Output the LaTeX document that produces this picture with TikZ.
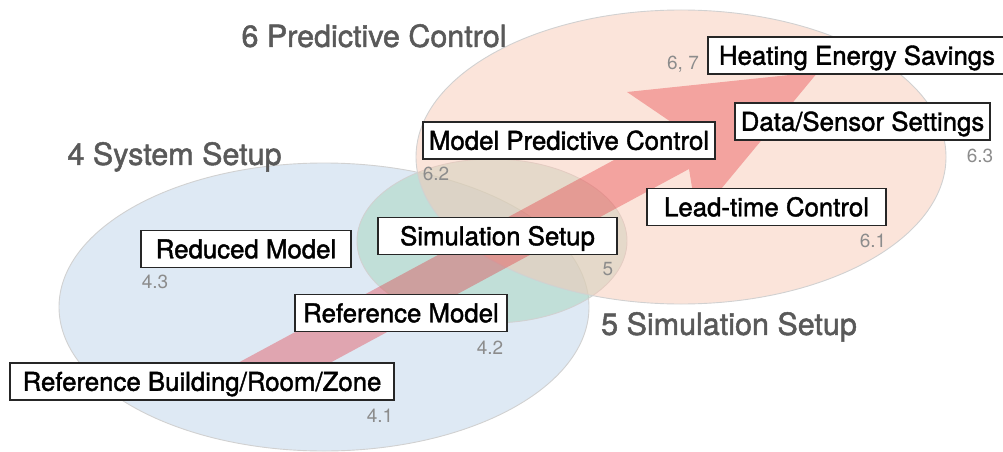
\documentclass[tikz,border=0pt]{standalone}
\usepackage{fontspec}
\setmainfont{TeX Gyre Heros}
\newfontfamily\medfont{TeX Gyre Heros}[FakeBold=1.6]
\newfontfamily\titlefont{TeX Gyre Heros}[FakeBold=1.6]
\begin{document}
\begin{tikzpicture}[x=1pt,y=-1pt,
  ring/.style={draw=black!18, line width=0.9pt},
  boxlabel/.style={draw=black!85, line width=1.4pt, fill=white,
    font=\medfont\fontsize{25.8}{30}\selectfont, text height=18.5pt, text depth=0pt,
    inner xsep=0pt, inner ysep=0pt, minimum height=37pt},
  secnum/.style={text=black!45, font=\fontsize{19}{22}\selectfont,
    text height=13.6pt, text depth=0pt, inner sep=0pt},
  chapter/.style={text=black!65, font=\titlefont\fontsize{30.5}{36}\selectfont,
    text height=21.8pt, text depth=0pt, inner sep=0pt}]
\definecolor{sysblue}{RGB}{222,233,244}
\definecolor{simgreen}{RGB}{166,215,190}
\definecolor{ctrlorange}{RGB}{247,201,181}
\definecolor{flowred}{RGB}{228,41,50}
\useasboundingbox (0,0) rectangle (1003,452);

% chapter areas
\fill[sysblue] (324,307) ellipse [x radius=265pt, y radius=144pt];
\draw[ring] (324,307) ellipse [x radius=265pt, y radius=144pt];
\fill[simgreen, fill opacity=0.5] (492,241) ellipse [x radius=135pt, y radius=82pt];
\draw[ring] (492,241) ellipse [x radius=135pt, y radius=82pt];
\fill[ctrlorange, fill opacity=0.5] (681,157) ellipse [x radius=265pt, y radius=147pt];
\draw[ring] (681,157) ellipse [x radius=265pt, y radius=147pt];

% workflow arrow
\coordinate (a1) at (197,385);
\coordinate (j1) at (677,126);
\coordinate (h1) at (627,92);
\coordinate (tip) at (818,72);
\coordinate (h2) at (697,218);
\coordinate (j2) at (689,169);
\coordinate (a2) at (289,385);
\fill[flowred, fill opacity=0.35] (a1) -- (j1) -- (h1) -- (tip) -- (h2) -- (j2) -- (a2) -- cycle;

% chapter titles
\node[chapter] (t6) at (374,36) {6 Predictive Control};
\node[chapter] (t4) at (174.5,154) {4 System Setup};
\node[chapter] (t5) at (729,324) {5 Simulation Setup};

% steps
\node[boxlabel, minimum width=298pt] (heat) at (857,55.5) {Heating Energy Savings};
\node[boxlabel, minimum width=255pt] (data) at (862.5,121.5) {Data/Sensor Settings};
\node[boxlabel, minimum width=292pt] (mpc) at (569,140.5) {Model Predictive Control};
\node[boxlabel, minimum width=239pt] (lead) at (766.5,207) {Lead-time Control};
\node[boxlabel, minimum width=239pt] (sim) at (497.5,236) {Simulation Setup};
\node[boxlabel, minimum width=210pt] (red) at (246,249) {Reduced Model};
\node[boxlabel, minimum width=212pt] (refm) at (401,313) {Reference Model};
\node[boxlabel, minimum width=384pt] (refb) at (202,381.5) {Reference Building/Room/Zone};

% section numbers
\node[secnum] (n67) at (683,63) {6, 7};
\node[secnum] (n63) at (980,156) {6.3};
\node[secnum] (n62) at (436,174) {6.2};
\node[secnum] (n61) at (873,241) {6.1};
\node[secnum] (n5) at (608,269) {5};
\node[secnum] (n43) at (155,282) {4.3};
\node[secnum] (n42) at (490,348) {4.2};
\node[secnum] (n41) at (380,416) {4.1};
\end{tikzpicture}
\end{document}
